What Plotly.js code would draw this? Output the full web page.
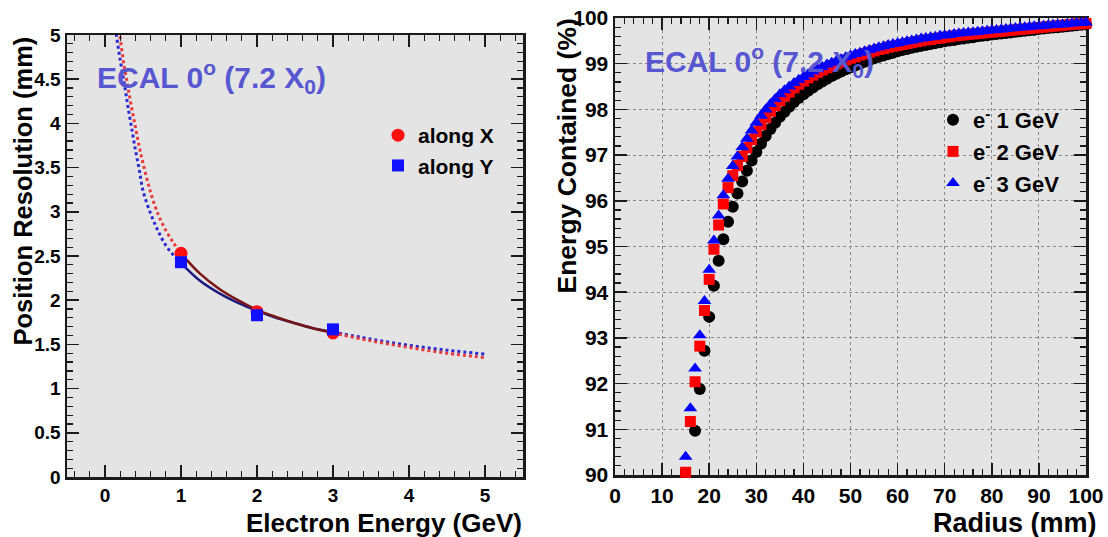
<!DOCTYPE html>
<html>
<head>
<meta charset="utf-8">
<script src="https://cdn.plot.ly/plotly-3.0.1.min.js"></script>
<style>html,body{margin:0;padding:0;background:#fff;}#chart{width:1108px;height:537px;}</style>
</head>
<body>
<div id="chart"></div>
<script>
// ---------- Left panel: position resolution ----------
const energyGeV = [1, 2, 3];
const resAlongX = [2.53, 1.87, 1.63];
const resAlongY = [2.43, 1.83, 1.67];

// fit curves (dotted outside 1-3 GeV, solid inside)
const fitEnergyX = [0.18, 0.2, 0.25, 0.3, 0.35, 0.4, 0.45, 0.5, 0.6, 0.7, 0.8, 0.9, 1.0,
                    1.25, 1.5, 1.75, 2.0, 2.25, 2.5, 2.75, 3.0, 3.5, 4.0, 4.5, 5.0];
const fitResX    = [5.12, 4.97, 4.66, 4.42, 4.18, 3.96, 3.74, 3.55, 3.22, 2.97, 2.79, 2.65, 2.53,
                    2.30, 2.13, 2.00, 1.89, 1.81, 1.74, 1.68, 1.63, 1.54, 1.465, 1.40, 1.35];
const fitEnergyY = [0.14, 0.15, 0.2, 0.26, 0.3, 0.35, 0.4, 0.45, 0.5, 0.6, 0.7, 0.8, 0.9, 1.0,
                    1.25, 1.5, 1.75, 2.0, 2.25, 2.5, 2.75, 3.0, 3.5, 4.0, 4.5, 5.0];
const fitResY    = [5.08, 5.00, 4.72, 4.42, 4.20, 3.95, 3.70, 3.48, 3.24, 2.98, 2.78, 2.62, 2.51, 2.42,
                    2.22, 2.08, 1.97, 1.88, 1.80, 1.74, 1.68, 1.64, 1.56, 1.49, 1.435, 1.39];

// ---------- Right panel: energy containment ----------
const radius1GeV = [17,18,19,20,21,22,23,24,25,26,27,28,29,30,31,32,33,34,35,36,37,38,39,40,
  41,42,43,44,45,46,47,48,49,50,51,52,53,54,55,56,57,58,59,60,61,62,63,64,65,66,67,68,69,70,
  71,72,73,74,75,76,77,78,79,80,81,82,83,84,85,86,87,88,89,90,91,92,93,94,95,96,97,98,99,100];
const contained1GeV = [
  90.97, 91.88, 92.72, 93.46, 94.14, 94.69, 95.16, 95.54, 95.87, 96.16,
  96.42, 96.66, 96.88, 97.07, 97.25, 97.42, 97.57, 97.71, 97.84, 97.95,
  98.06, 98.16, 98.25, 98.33, 98.41, 98.48, 98.55, 98.61, 98.67, 98.73,
  98.78, 98.83, 98.88, 98.92, 98.96, 99.00, 99.04, 99.08, 99.12, 99.15,
  99.18, 99.21, 99.24, 99.27, 99.30, 99.32, 99.35, 99.37, 99.39, 99.41,
  99.43, 99.45, 99.47, 99.49, 99.51, 99.52, 99.54, 99.55, 99.57, 99.58,
  99.60, 99.61, 99.62, 99.64, 99.65, 99.66, 99.67, 99.68, 99.70, 99.71,
  99.72, 99.73, 99.74, 99.76, 99.77, 99.78, 99.79, 99.80, 99.81, 99.82,
  99.83, 99.84, 99.85, 99.86];

const radius23GeV = [15,16,17,18,19,20,21,22,23,24,25,26,27,28,29,30,31,32,33,34,35,36,37,38,39,40,
  41,42,43,44,45,46,47,48,49,50,51,52,53,54,55,56,57,58,59,60,61,62,63,64,65,66,67,68,69,70,
  71,72,73,74,75,76,77,78,79,80,81,82,83,84,85,86,87,88,89,90,91,92,93,94,95,96,97,98,99,100];
const contained2GeV = [
  90.06, 91.17, 92.04, 92.82, 93.60, 94.28, 94.94, 95.47, 95.93, 96.29,
  96.55, 96.77, 96.97, 97.16, 97.34, 97.51, 97.67, 97.82, 97.96, 98.08,
  98.19, 98.29, 98.38, 98.47, 98.55, 98.62, 98.69, 98.75, 98.81, 98.86,
  98.91, 98.96, 99.00, 99.04, 99.08, 99.12, 99.15, 99.19, 99.22, 99.25,
  99.28, 99.31, 99.33, 99.36, 99.38, 99.40, 99.42, 99.44, 99.46, 99.48,
  99.50, 99.52, 99.53, 99.55, 99.56, 99.58, 99.59, 99.61, 99.62, 99.63,
  99.64, 99.65, 99.66, 99.67, 99.68, 99.69, 99.70, 99.71, 99.72, 99.73,
  99.74, 99.75, 99.76, 99.77, 99.78, 99.79, 99.80, 99.81, 99.82, 99.83,
  99.84, 99.85, 99.86, 99.87, 99.87, 99.88];
const contained3GeV = [
  90.40, 91.46, 92.33, 93.06, 93.81, 94.49, 95.13, 95.68, 96.12, 96.48,
  96.76, 96.97, 97.17, 97.36, 97.54, 97.71, 97.86, 98.00, 98.12, 98.23,
  98.33, 98.42, 98.50, 98.58, 98.65, 98.71, 98.77, 98.83, 98.88, 98.93,
  98.98, 99.02, 99.06, 99.10, 99.14, 99.18, 99.21, 99.24, 99.27, 99.30,
  99.33, 99.36, 99.38, 99.41, 99.43, 99.45, 99.47, 99.49, 99.51, 99.53,
  99.55, 99.56, 99.58, 99.59, 99.61, 99.62, 99.63, 99.65, 99.66, 99.67,
  99.68, 99.69, 99.70, 99.71, 99.72, 99.73, 99.74, 99.75, 99.76, 99.77,
  99.78, 99.79, 99.80, 99.81, 99.82, 99.82, 99.83, 99.84, 99.85, 99.86,
  99.86, 99.87, 99.88, 99.89, 99.89, 99.90];

const legendLeft = ['along X', 'along Y'];
const legendRight = ['e<sup>-</sup> 1 GeV', 'e<sup>-</sup> 2 GeV', 'e<sup>-</sup> 3 GeV'];
const panelLabel = 'ECAL 0<sup>o</sup> (7.2 X<sub>0</sub>)';

// ---------- helpers ----------
const FONT = 'Liberation Sans, Arial, sans-serif';
function segment(xs, ys, lo, hi, inside) {
  const ox = [], oy = [];
  xs.forEach((x, i) => {
    const inRange = x >= lo - 1e-9 && x <= hi + 1e-9;
    const keep = inside ? inRange : (x <= lo + 1e-9 || x >= hi - 1e-9);
    if (keep) { ox.push(x); oy.push(ys[i]); }
    else if (!inside && ox.length && oy[oy.length - 1] !== null) { ox.push(x); oy.push(null); }
  });
  return {x: ox, y: oy};
}

const dotX = segment(fitEnergyX, fitResX, 1, 3, false);
const dotY = segment(fitEnergyY, fitResY, 1, 3, false);
const solX = segment(fitEnergyX, fitResX, 1, 3, true);
const solY = segment(fitEnergyY, fitResY, 1, 3, true);

const traces = [
  {x: dotY.x, y: dotY.y, xaxis: 'x', yaxis: 'y', mode: 'lines', showlegend: false, connectgaps: false,
   line: {color: '#2a2ad0', width: 3, dash: 'dot', shape: 'spline'}, hoverinfo: 'skip'},
  {x: dotX.x, y: dotX.y, xaxis: 'x', yaxis: 'y', mode: 'lines', showlegend: false, connectgaps: false,
   line: {color: '#e83a3a', width: 3, dash: 'dot', shape: 'spline'}, hoverinfo: 'skip'},
  {x: solY.x, y: solY.y, xaxis: 'x', yaxis: 'y', mode: 'lines', showlegend: false,
   line: {color: '#1c1c80', width: 2.5, shape: 'spline'}, hoverinfo: 'skip'},
  {x: solX.x, y: solX.y, xaxis: 'x', yaxis: 'y', mode: 'lines', showlegend: false,
   line: {color: '#7a1616', width: 2.5, shape: 'spline'}, hoverinfo: 'skip'},
  {x: energyGeV, y: resAlongX, xaxis: 'x', yaxis: 'y', mode: 'markers', name: legendLeft[0], legend: 'legend',
   marker: {symbol: 'circle', size: 13, color: '#ff1010'}},
  {x: energyGeV, y: resAlongY, xaxis: 'x', yaxis: 'y', mode: 'markers', name: legendLeft[1], legend: 'legend',
   marker: {symbol: 'square', size: 12, color: '#1010ff'}},

  {x: radius1GeV, y: contained1GeV, xaxis: 'x2', yaxis: 'y2', mode: 'markers', name: legendRight[0], legend: 'legend2',
   cliponaxis: false, marker: {symbol: 'circle', size: 12, color: '#000000'}},
  {x: radius23GeV, y: contained2GeV, xaxis: 'x2', yaxis: 'y2', mode: 'markers', name: legendRight[1], legend: 'legend2',
   cliponaxis: false, marker: {symbol: 'square', size: 11, color: '#ff0000'}},
  {x: radius23GeV, y: contained3GeV, xaxis: 'x2', yaxis: 'y2', mode: 'markers', name: legendRight[2], legend: 'legend2',
   cliponaxis: false, marker: {symbol: 'triangle-up', size: 12, color: '#0000ff'}}
];

const tickFontL = {family: FONT, size: 19, color: '#000', weight: 'bold'};
const tickFontR = {family: FONT, size: 21, color: '#000', weight: 'bold'};
const axisCommon = {
  showline: true, linecolor: '#1a1a1a', linewidth: 2.5, mirror: 'allticks',
  ticks: 'inside', ticklen: 12, tickwidth: 1.5, tickcolor: '#1a1a1a',
  zeroline: false, fixedrange: true
};
const W = 1108, H = 537;
const px = v => v / W, py = v => 1 - v / H;

const layout = {
  width: W, height: H,
  margin: {l: 0, r: 0, t: 0, b: 0, pad: 0},
  paper_bgcolor: '#ffffff', plot_bgcolor: '#e4e4e4',
  showlegend: true,
  xaxis: Object.assign({}, axisCommon, {
    domain: [px(67), px(523)], range: [-0.5, 5.5], tickmode: 'linear', tick0: 0, dtick: 1,
    showgrid: false, anchor: 'y', tickfont: tickFontL,
    minor: {dtick: 0.2, ticklen: 6, ticks: 'inside', tickcolor: '#1a1a1a', tickwidth: 1.2, showgrid: false}
  }),
  yaxis: Object.assign({}, axisCommon, {
    domain: [py(477), py(35)], range: [0, 5], tickmode: 'linear', tick0: 0, dtick: 0.5,
    showgrid: false, anchor: 'x', tickfont: tickFontL,
    minor: {dtick: 0.1, ticklen: 6, ticks: 'inside', tickcolor: '#1a1a1a', tickwidth: 1.2, showgrid: false}
  }),
  xaxis2: Object.assign({}, axisCommon, {
    domain: [px(615), px(1086)], range: [0, 100], tickmode: 'linear', tick0: 0, dtick: 10,
    showgrid: true, gridcolor: '#8a8a8a', gridwidth: 1, griddash: 'dot', anchor: 'y2', layer: 'below traces',
    tickfont: tickFontR,
    minor: {dtick: 2, ticklen: 6, ticks: 'inside', tickcolor: '#1a1a1a', tickwidth: 1.2, showgrid: false}
  }),
  yaxis2: Object.assign({}, axisCommon, {
    domain: [py(475), py(18)], range: [90, 100], tickmode: 'linear', tick0: 90, dtick: 1,
    showgrid: true, gridcolor: '#8a8a8a', gridwidth: 1, griddash: 'dot', anchor: 'x2', layer: 'below traces',
    tickfont: tickFontR,
    minor: {dtick: 0.2, ticklen: 6, ticks: 'inside', tickcolor: '#1a1a1a', tickwidth: 1.2, showgrid: false}
  }),
  legend: {x: px(378), y: py(115), xanchor: 'left', yanchor: 'top', bgcolor: 'rgba(0,0,0,0)',
           borderwidth: 0, font: {family: FONT, size: 21, color: '#000', weight: 'bold'}, tracegroupgap: 0},
  legend2: {x: px(933), y: py(99), xanchor: 'left', yanchor: 'top', bgcolor: 'rgba(0,0,0,0)',
           borderwidth: 0, font: {family: FONT, size: 22, color: '#000', weight: 'bold'}, tracegroupgap: 0},
  annotations: [
    {text: panelLabel, xref: 'paper', yref: 'paper', x: px(95), y: py(77), xanchor: 'left', yanchor: 'middle',
     showarrow: false, font: {family: FONT, size: 30, color: '#5757d2', weight: 'bold'}},
    {text: panelLabel, xref: 'paper', yref: 'paper', x: px(643), y: py(61), xanchor: 'left', yanchor: 'middle',
     showarrow: false, font: {family: FONT, size: 30, color: '#5757d2', weight: 'bold'}},
    {text: 'Electron Energy (GeV)', xref: 'paper', yref: 'paper', x: px(524), y: py(523), xanchor: 'right', yanchor: 'middle',
     showarrow: false, font: {family: FONT, size: 26, color: '#000', weight: 'bold'}},
    {text: 'Radius (mm)', xref: 'paper', yref: 'paper', x: px(1099), y: py(523), xanchor: 'right', yanchor: 'middle',
     showarrow: false, font: {family: FONT, size: 27, color: '#000', weight: 'bold'}},
    {text: 'Position Resolution (mm)', xref: 'paper', yref: 'paper', x: px(22), y: py(35), xanchor: 'center', yanchor: 'top',
     textangle: -90, showarrow: false, font: {family: FONT, size: 25.5, color: '#000', weight: 'bold'}},
    {text: 'Energy Contained (%)', xref: 'paper', yref: 'paper', x: px(567), y: py(16), xanchor: 'center', yanchor: 'top',
     textangle: -90, showarrow: false, font: {family: FONT, size: 26.5, color: '#000', weight: 'bold'}}
  ]
};

Plotly.newPlot('chart', traces, layout, {staticPlot: true, displayModeBar: false});
</script>
</body>
</html>
